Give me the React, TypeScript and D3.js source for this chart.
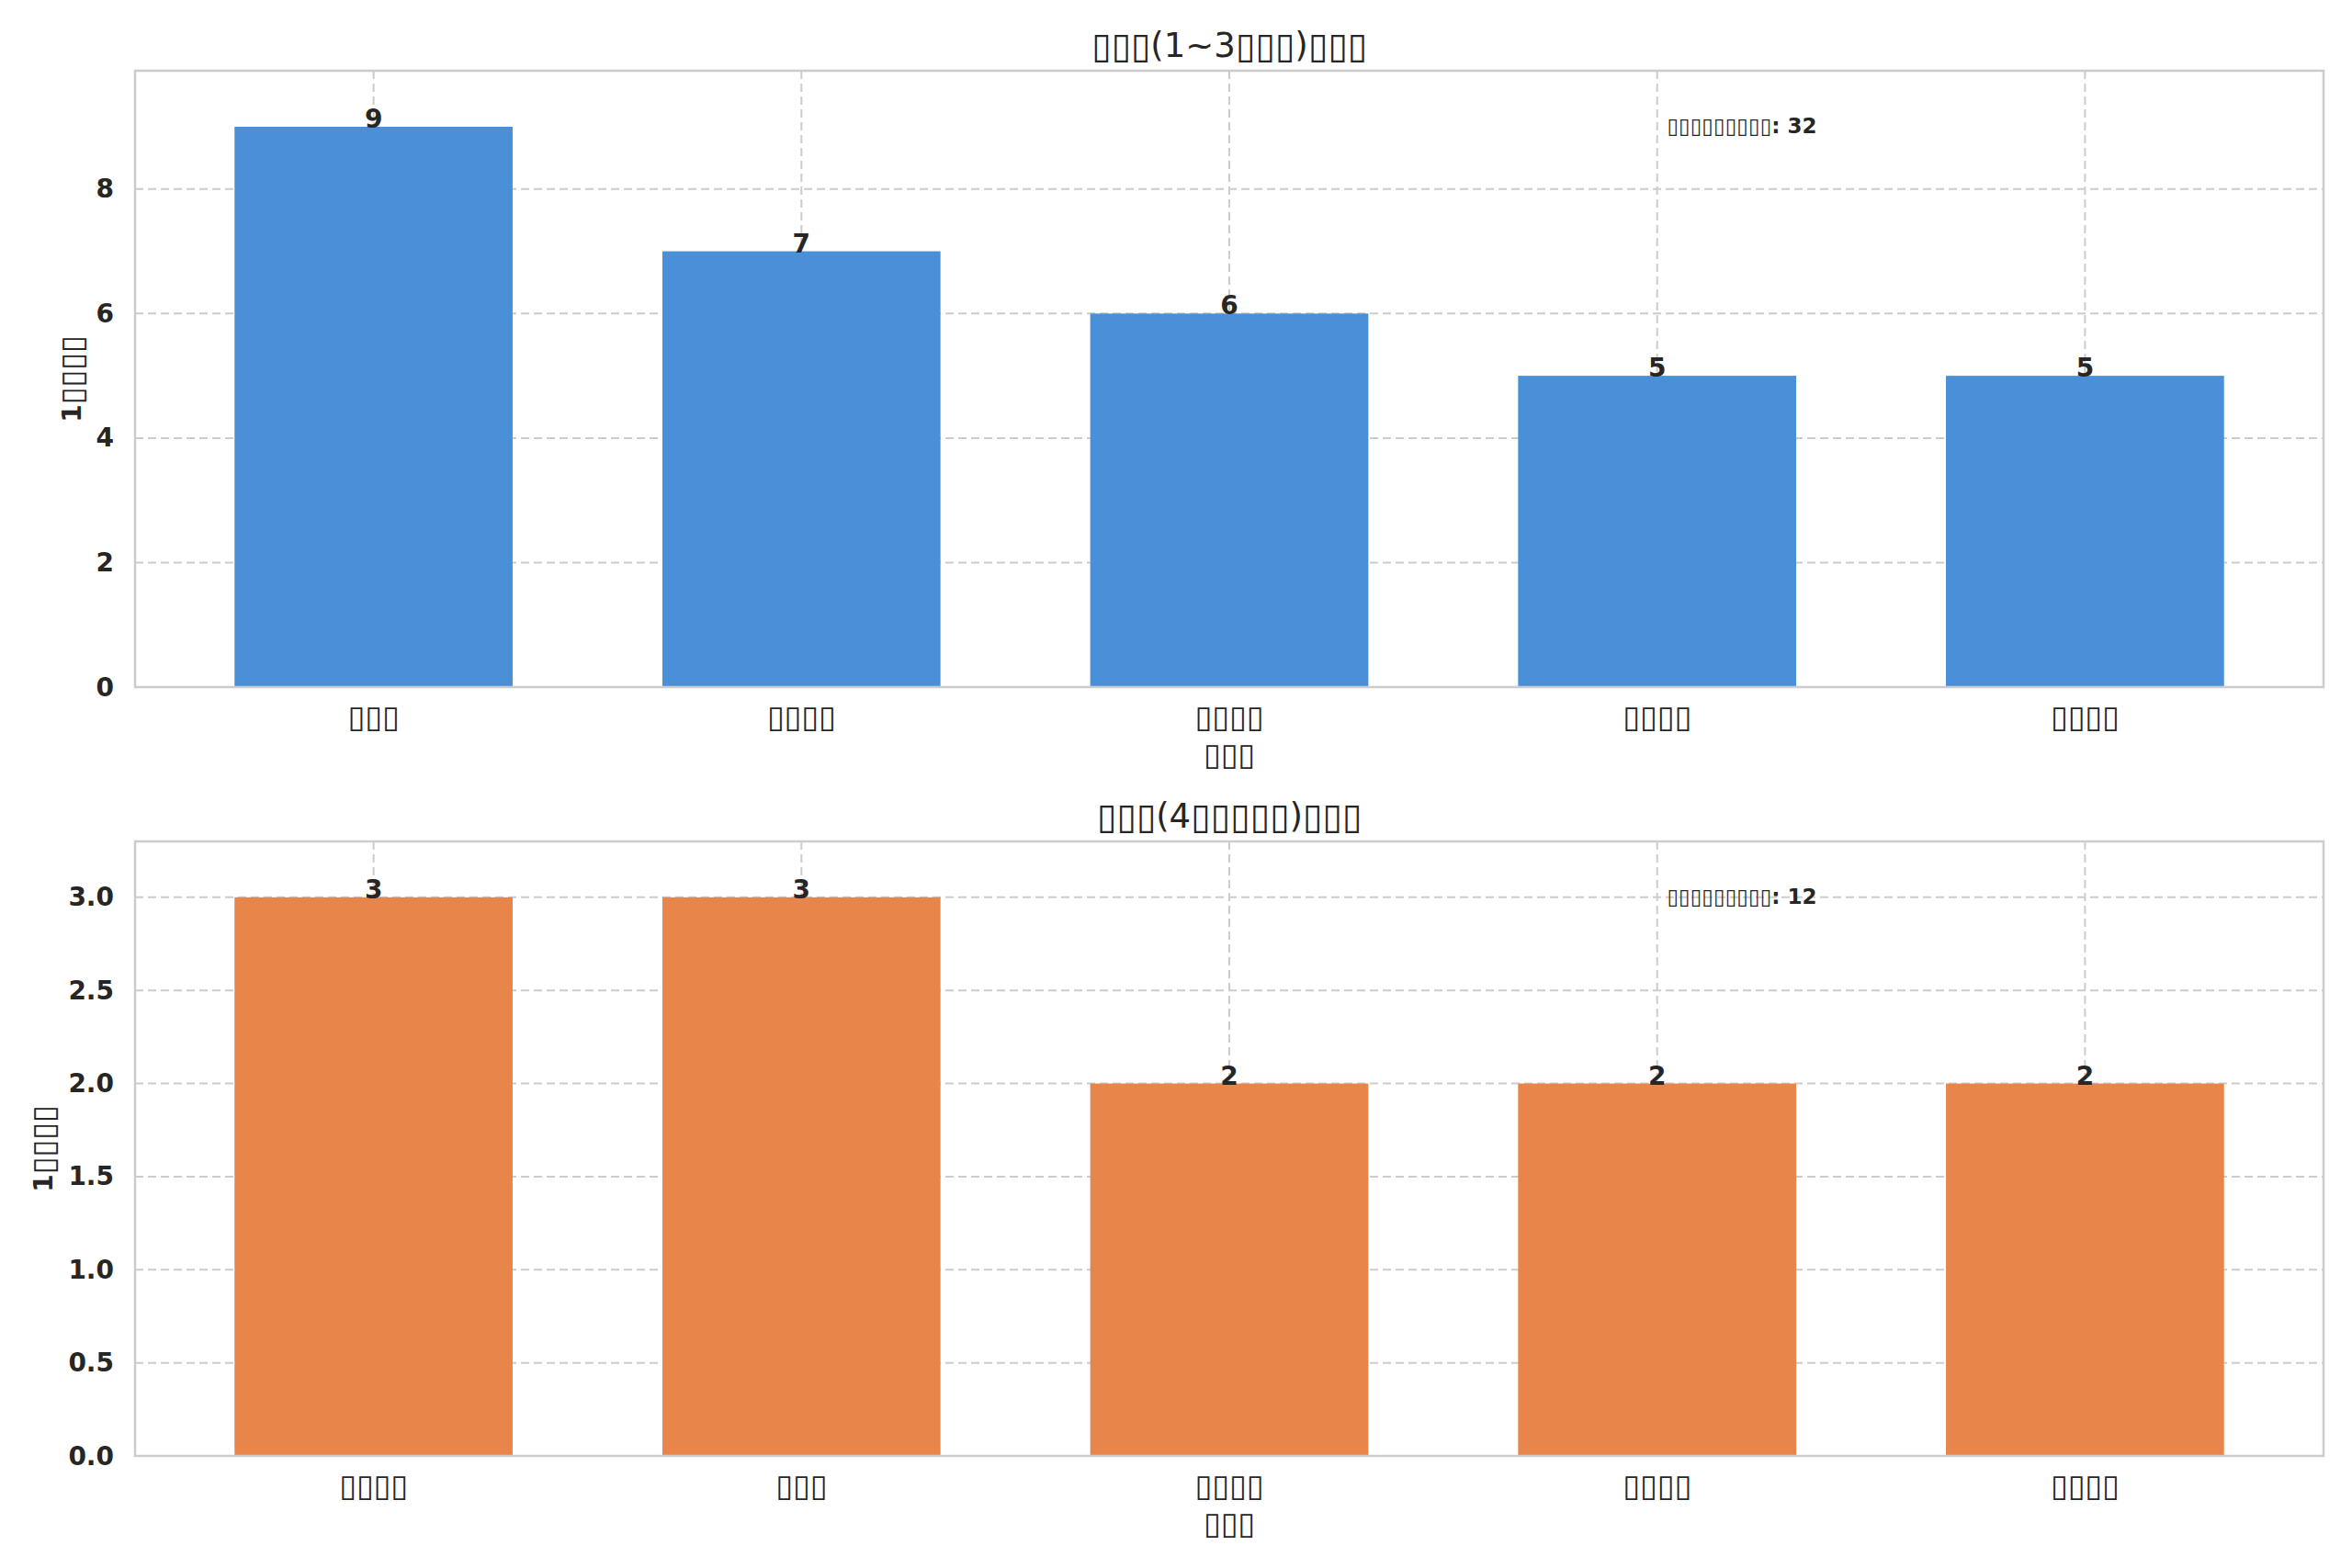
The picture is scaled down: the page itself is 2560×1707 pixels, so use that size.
import React from 'react';
import * as d3 from 'd3';

// tofu boxes stand in for the glyphs the original renderer could not draw
const T = '\u25AF';
const box = (n: number) => T.repeat(n);

const recentCategories = [box(3), box(4), box(4), box(4), box(4)];
const recentValues = [9, 7, 6, 5, 5];
const recentTicks = [0, 2, 4, 6, 8];

const olderCategories = [box(4), box(3), box(4), box(4), box(4)];
const olderValues = [3, 3, 2, 2, 2];
const olderTicks = [0, 0.5, 1.0, 1.5, 2.0, 2.5, 3.0];

const recentTitle = `${box(3)}(1~3${box(3)})${box(3)}`;
const olderTitle = `${box(3)}(4${box(5)})${box(3)}`;
const yLabelText = `1${box(4)}`;
const xLabelText = box(3);
const notePrefix = box(9);

const W = 2560;
const H = 1707;
const FONT = '"DejaVu Sans", sans-serif';
const INK = '#262626';
const GRID = '#cccccc';

// split a string into runs so the tofu runs can take their own size and weight
const runs = (s: string, size: number, boxSize: number, weight: string) =>
  s.split(new RegExp(`(${T}+)`)).filter(p => p.length > 0).map((p, i) =>
    p[0] === T
      ? <tspan key={i} fontSize={boxSize} fontWeight="normal">{p}</tspan>
      : <tspan key={i} fontSize={size} fontWeight={weight}>{p}</tspan>
  );

interface PanelProps {
  top: number;
  bottom: number;
  title: string;
  categories: string[];
  values: number[];
  ticks: number[];
  tickFormat: (v: number) => string;
  color: string;
  yLabelX: number;
}

const Panel: React.FC<PanelProps> = ({ top, bottom, title, categories, values, ticks, tickFormat, color, yLabelX }) => {
  const left = 147;
  const right = 2529;
  const barW = 0.65;
  const pad = 0.05 * (categories.length - 1 + barW);

  const x = d3.scaleLinear()
    .domain([-barW / 2 - pad, categories.length - 1 + barW / 2 + pad])
    .range([left, right]);
  const y = d3.scaleLinear()
    .domain([0, (d3.max(values) as number) * 1.1])
    .range([bottom, top]);

  const total = d3.sum(values);
  const bw = x(barW) - x(0);

  return (
    <g>
      <text x={(left + right) / 2} y={top - 28} textAnchor="middle" dominantBaseline="central"
        fill={INK}>{runs(title, 37, 39, 'normal')}</text>

      {/* grid */}
      {ticks.map(t => (
        <line key={'h' + t} x1={left} x2={right} y1={y(t)} y2={y(t)}
          stroke={GRID} strokeWidth={2} strokeDasharray="9,5" />
      ))}
      {categories.map((c, i) => (
        <line key={'v' + i} x1={x(i)} x2={x(i)} y1={top} y2={bottom}
          stroke={GRID} strokeWidth={2} strokeDasharray="9,5" />
      ))}

      {/* bars */}
      {values.map((v, i) => (
        <rect key={i} x={x(i) - bw / 2} y={y(v)} width={bw} height={bottom - y(v)} fill={color} />
      ))}
      {values.map((v, i) => (
        <text key={'l' + i} x={x(i)} y={y(v) + 1} textAnchor="middle" fontSize={28}
          fontWeight="bold" fill={INK}>{v}</text>
      ))}

      <text x={left + 0.7 * (right - left)} y={top + 0.09 * (bottom - top)} dominantBaseline="central"
        fill={INK}>{runs(`${notePrefix}: ${total}`, 23, 23, 'bold')}</text>

      <rect x={left} y={top} width={right - left} height={bottom - top}
        fill="none" stroke={GRID} strokeWidth={2.5} />

      {/* y axis */}
      {ticks.map(t => (
        <text key={'yt' + t} x={124} y={y(t)} textAnchor="end" dominantBaseline="central"
          fontSize={28} fontWeight="bold" fill={INK}>{tickFormat(t)}</text>
      ))}
      <text transform={`translate(${yLabelX},${(top + bottom) / 2}) rotate(-90)`} textAnchor="middle"
        dominantBaseline="central" fill={INK}>{runs(yLabelText, 28, 34, 'bold')}</text>

      {/* x axis */}
      {categories.map((c, i) => (
        <text key={'xt' + i} x={x(i)} y={bottom + 32} textAnchor="middle" dominantBaseline="central"
          fill={INK}>{runs(c, 28, 34, 'normal')}</text>
      ))}
      <text x={(left + right) / 2} y={bottom + 73} textAnchor="middle" dominantBaseline="central"
        fill={INK}>{runs(xLabelText, 28, 34, 'bold')}</text>
    </g>
  );
};

const App: React.FC = () => {
  const intFmt = d3.format('d');
  const decFmt = d3.format('.1f');
  return (
    <div style={{ position: 'absolute', left: 0, top: 0 }}>
      <svg width={W} height={H} style={{ display: 'block', background: '#fff' }} fontFamily={FONT}>
        <Panel top={77} bottom={748} title={recentTitle} categories={recentCategories}
          values={recentValues} ticks={recentTicks} tickFormat={intFmt} color="#4A90D9" yLabelX={78} />
        <Panel top={916} bottom={1585} title={olderTitle} categories={olderCategories}
          values={olderValues} ticks={olderTicks} tickFormat={decFmt} color="#E8854A" yLabelX={47} />
      </svg>
    </div>
  );
};

export default App;
